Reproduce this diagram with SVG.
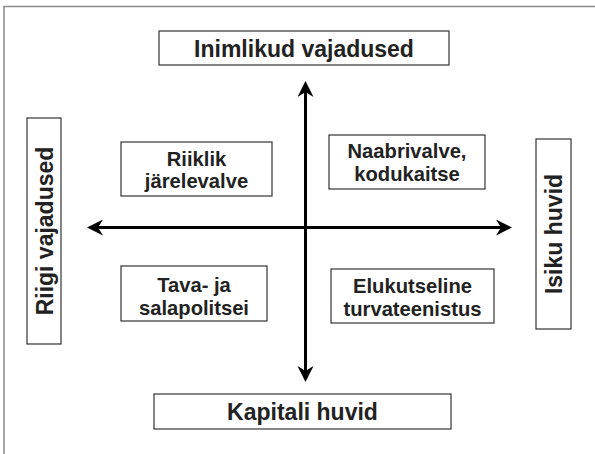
<svg xmlns="http://www.w3.org/2000/svg" width="595" height="454" viewBox="0 0 595 454">
<style>
.frame{fill:none;stroke:#8a8a8a;stroke-width:1.5}
.box{fill:#fff;stroke:#333;stroke-width:1.2}
.t{font-family:"Liberation Sans",Arial,sans-serif;font-weight:bold;fill:#222;text-anchor:middle}
.big{font-size:23px}
.small{font-size:20.2px}
.ax{stroke:#000;stroke-width:3;fill:none}
</style>
<defs>
<marker id="ah" viewBox="0 0 16 16" refX="5" refY="8" markerWidth="16" markerHeight="16" markerUnits="userSpaceOnUse" orient="auto-start-reverse">
<path d="M0,0 L16,8 L0,16 L5,8 Z" fill="#000"/>
</marker>
</defs>
<rect width="595" height="454" fill="#fff"/>
<path class="frame" d="M4,460 L4,6.5 L600,6.5"/>
<g id="connectors">
<line class="ax" x1="305.5" y1="371" x2="305.5" y2="92" marker-start="url(#ah)" marker-end="url(#ah)"/>
<line class="ax" x1="98" y1="227.5" x2="501" y2="227.5" marker-start="url(#ah)" marker-end="url(#ah)"/>
</g>
<g id="inimlikud">
<rect class="box" x="159" y="31" width="290" height="34"/>
<text class="t big" x="304" y="56.5">Inimlikud vajadused</text>
</g>
<g id="kapitali">
<rect class="box" x="154" y="394" width="297" height="35"/>
<text class="t big" x="302.5" y="419.5">Kapitali huvid</text>
</g>
<g id="riigi">
<rect class="box" x="27" y="118" width="34" height="226"/>
<text class="t big" transform="translate(52.5,231) rotate(-90)" x="0" y="0">Riigi vajadused</text>
</g>
<g id="isiku">
<rect class="box" x="536" y="139" width="35" height="190"/>
<text class="t big" transform="translate(562,234) rotate(-90)" x="0" y="0">Isiku huvid</text>
</g>
<g id="riiklik">
<rect class="box" x="121" y="142" width="151" height="54"/>
<text class="t small" x="196.5" y="165.5">Riiklik</text>
<text class="t small" x="196.5" y="188">järelevalve</text>
</g>
<g id="naabrivalve">
<rect class="box" x="329" y="135" width="156" height="54"/>
<text class="t small" x="407" y="157.5">Naabrivalve,</text>
<text class="t small" x="407" y="180.5">kodukaitse</text>
</g>
<g id="tava">
<rect class="box" x="121" y="266" width="146" height="55"/>
<text class="t small" x="194" y="291.5">Tava- ja</text>
<text class="t small" x="194" y="314.5">salapolitsei</text>
</g>
<g id="elukutseline">
<rect class="box" x="331" y="269" width="163" height="54"/>
<text class="t small" x="412.5" y="292.5">Elukutseline</text>
<text class="t small" x="412.5" y="315.5">turvateenistus</text>
</g>
</svg>
